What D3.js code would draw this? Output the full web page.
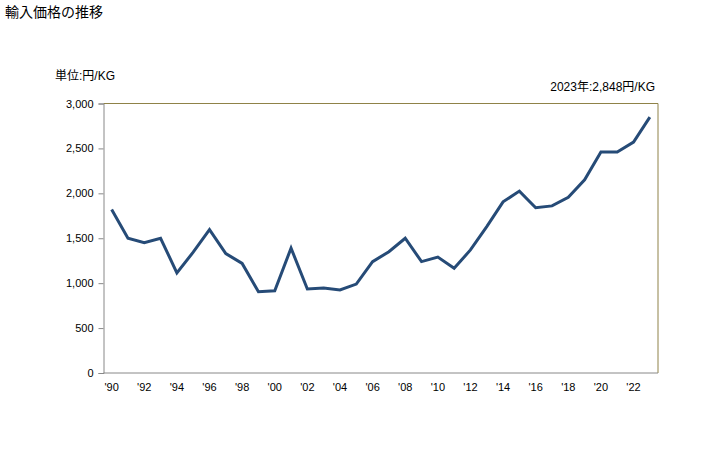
<!DOCTYPE html>
<html><head><meta charset="utf-8">
<script src="https://cdn.jsdelivr.net/npm/d3@7"></script>
<style>
body{margin:0;background:#fff;}
text{font-family:"Liberation Sans","Noto Sans CJK JP",sans-serif;fill:#000;}
</style></head>
<body><svg id="c" width="728" height="450"></svg>
<script>
const years = d3.range(1990, 2024);
const values = [1820,1500,1450,1500,1115,1345,1595,1330,1220,905,915,1390,935,945,925,990,1240,1350,1500,1240,1290,1165,1370,1630,1905,2025,1840,1860,1955,2150,2460,2460,2570,2848];
const yTicks = [0,500,1000,1500,2000,2500,3000];
const xTickYears = d3.range(1990, 2024, 2);
const title = "輸入価格の推移";
const unitLabel = "単位:円/KG";
const note = "2023年:2,848円/KG";

const svg = d3.select("#c");
const L = 103.5, R = 658, T = 103.5, B = 373;
const x = d3.scaleBand().domain(years).range([L, R]);
const y = d3.scaleLinear().domain([0, 3000]).range([B, T]);
const cx = d => x(d) + x.bandwidth()/2;

svg.append("text").attr("x", 5).attr("y", 17).style("font-size","14px").text(title);
svg.append("text").attr("x", 55).attr("y", 80).style("font-size","12px").text(unitLabel);
svg.append("text").attr("x", 655).attr("y", 91).attr("text-anchor","end").style("font-size","12px").text(note);

// top/right border
svg.append("path").attr("d", `M${L},${T}H${R}V${B}`).attr("fill","none").attr("stroke","#8f8248").attr("stroke-width",1);

// y axis
const yAxis = svg.append("g").attr("transform", `translate(${L},0)`)
  .call(d3.axisLeft(y).tickValues(yTicks).tickSize(5).tickPadding(5).tickFormat(d3.format(",")));
yAxis.select(".domain").attr("stroke","#888");
yAxis.selectAll(".tick line").attr("stroke","#888");
yAxis.selectAll("text").style("font-size","11px").attr("font-family",null);

// x axis
const xAxis = svg.append("g").attr("transform", `translate(0,${B})`)
  .call(d3.axisBottom(x).tickValues(xTickYears).tickSize(0).tickPadding(10)
    .tickFormat(d => "'" + String(d).slice(2)));
xAxis.select(".domain").attr("stroke","#888").attr("d", `M${L},0H${R}`);
xAxis.selectAll("text").style("font-size","11px").attr("font-family",null);

// line
const line = d3.line().x((d,i) => cx(years[i])).y(d => y(d));
svg.append("path").datum(values).attr("d", line)
  .attr("fill","none").attr("stroke","#264b77").attr("stroke-width",3).attr("stroke-linejoin","miter");
</script></body></html>
